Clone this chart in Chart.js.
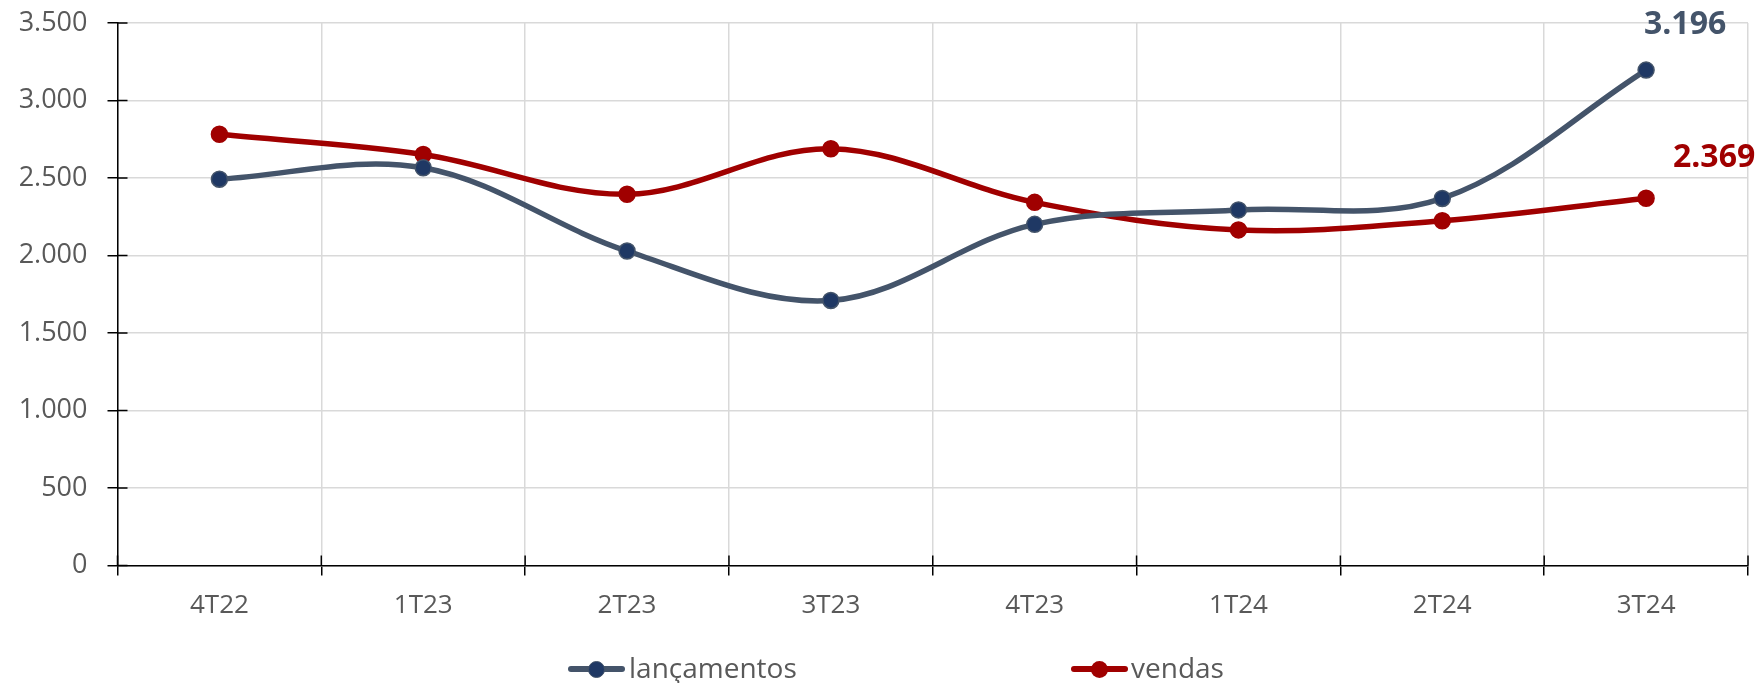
<!DOCTYPE html>
<html><head><meta charset="utf-8">
<script src="https://cdn.jsdelivr.net/npm/chart.js@4/dist/chart.umd.min.js"></script>
<style>
html,body{margin:0;padding:0;background:#fff;}
#wrap{position:relative;width:1760px;height:683px;overflow:hidden;}
canvas{display:block}
.lt{position:absolute;top:648px;font-family:"Open Sans";font-size:28px;line-height:38px;color:#595959;white-space:nowrap;}
.mk{position:absolute;width:57px;height:18px;top:660px;}
.mk .ln{position:absolute;left:0;right:0;top:6px;height:6px;border-radius:3px}
.mk .dt{position:absolute;left:20px;top:0.5px;width:17px;height:17px;border-radius:50%;box-sizing:border-box}
</style></head>
<body>
<div id="wrap">
<canvas id="c" width="1760" height="683"></canvas>
<div class="mk" style="left:568px"><div class="ln" style="background:#44546A"></div><div class="dt" style="background:#1F3864;border:1.5px solid #44546A"></div></div>
<div class="lt" id="l0" style="left:629px"></div>
<div class="mk" style="left:1071px"><div class="ln" style="background:#A00000"></div><div class="dt" style="background:#A00000"></div></div>
<div class="lt" id="l1" style="left:1131px"></div>
</div>
<script>
const categories = ['4T22','1T23','2T23','3T23','4T23','1T24','2T24','3T24'];
const lancamentos = [2492, 2566, 2029, 1710, 2201, 2294, 2368, 3196];
const vendas = [2782, 2652, 2395, 2689, 2343, 2165, 2224, 2369];
const yTicks = [0, 500, 1000, 1500, 2000, 2500, 3000, 3500];
const seriesNames = ['lançamentos', 'vendas'];

document.getElementById('l0').textContent = seriesNames[0];
document.getElementById('l1').textContent = seriesNames[1];

function fmt(v){ return String(v).replace(/\B(?=(\d{3})+(?!\d))/g, '.'); }

const labelStyle = [
  {color:'#44546A', dx:39, dy:-45},
  {color:'#A00000', dx:68, dy:-40}
];

const extras = {
  id: 'extras',
  afterDraw(chart){
    const {ctx, scales:{x, y}, chartArea:a} = chart;
    ctx.save();
    ctx.strokeStyle = '#000';
    ctx.lineWidth = 1.5;
    ctx.beginPath();
    y.ticks.forEach(t => { const py = y.getPixelForValue(t.value); ctx.moveTo(a.left, py); ctx.lineTo(a.left + 10, py); });
    for (let i = 0; i <= categories.length; i++) {
      const px = x.getPixelForValue(i - 0.5);
      ctx.moveTo(px, a.bottom); ctx.lineTo(px, a.bottom - 10);
    }
    ctx.stroke();
    ctx.font = 'bold 32px "Open Sans"';
    ctx.textAlign = 'center';
    ctx.textBaseline = 'middle';
    chart.data.datasets.forEach((ds, di) => {
      const meta = chart.getDatasetMeta(di);
      const last = meta.data.length - 1;
      const pt = meta.data[last];
      const st = labelStyle[di];
      ctx.fillStyle = st.color;
      ctx.fillText(fmt(ds.data[last]), pt.x + st.dx, pt.y + st.dy);
    });
    ctx.restore();
  }
};

new Chart(document.getElementById('c'), {
  type: 'line',
  data: {
    labels: categories,
    datasets: [
      { label: seriesNames[0], data: lancamentos, borderColor: '#44546A', borderWidth: 5.5,
        pointRadius: 8, pointHoverRadius: 8, pointBackgroundColor: '#1F3864', pointBorderColor: '#44546A', pointBorderWidth: 1.5,
        tension: 0.35, fill: false },
      { label: seriesNames[1], data: vendas, borderColor: '#A00000', borderWidth: 5.5,
        pointRadius: 8, pointHoverRadius: 8, pointBackgroundColor: '#A00000', pointBorderColor: '#A00000', pointBorderWidth: 1.5,
        tension: 0.35, fill: false }
    ]
  },
  options: {
    responsive: false,
    devicePixelRatio: 1,
    animation: false,
    layout: { padding: { left: 0, top: 23, right: 12, bottom: 55.5 } },
    plugins: { legend: { display: false }, tooltip: { enabled: false } },
    scales: {
      x: {
        offset: true,
        grid: { offset: true, color: '#D9D9D9', lineWidth: 1.5, tickColor: '#000', tickLength: 10, drawTicks: true },
        border: { color: '#000', width: 1.5 },
        ticks: { color: '#595959', font: { family: 'Open Sans', size: 26 }, padding: 14 },
        afterFit(s){ s.height = 62; s.paddingLeft = 0; s.paddingRight = 0; }
      },
      y: {
        min: 0, max: 3500,
        grid: { color: '#D9D9D9', lineWidth: 1.5, tickColor: '#000', tickLength: 10 },
        border: { color: '#000', width: 1.5 },
        ticks: { color: '#595959', font: { family: 'Open Sans', size: 27 }, padding: 20, callback: v => fmt(v) },
        afterBuildTicks(s){ s.ticks = yTicks.map(v => ({ value: v })); },
        afterFit(s){ s.width = 117.5; s.paddingTop = 0; s.paddingBottom = 0; }
      }
    }
  },
  plugins: [extras]
});
</script>
</body></html>
